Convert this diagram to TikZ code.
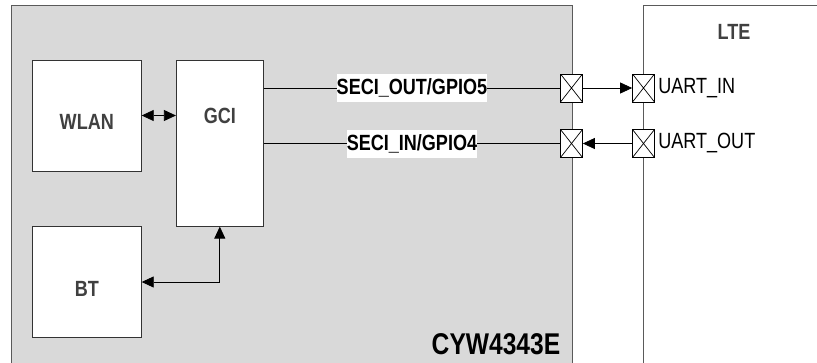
\documentclass[tikz,border=0pt]{standalone}
\usepackage{fontspec}
\setmainfont{Liberation Sans}[FakeStretch=0.82]
\usetikzlibrary{arrows.meta}
\definecolor{chipgray}{HTML}{D9D9D9}
\definecolor{edgegray}{HTML}{5A5A5A}
\definecolor{txtgray}{HTML}{404040}
\begin{document}
\begin{tikzpicture}[x=1pt, y=-1pt, >={Triangle[length=12pt,width=11pt]},
  every node/.style={font=\fontsize{22}{24}\selectfont},
  blk/.style={draw=black!80, fill=white, inner sep=0pt, line width=0.8pt},
  lbl/.style={text=txtgray, font=\fontsize{22}{24}\selectfont\bfseries},
  pad/.style={draw, fill=white, minimum width=22pt, minimum height=28pt, inner sep=0pt, line width=0.7pt,
    path picture={\draw[line width=0.7pt] (path picture bounding box.south west) -- (path picture bounding box.north east)
      (path picture bounding box.north west) -- (path picture bounding box.south east);}},
  sig/.style={fill=white, inner xsep=0pt, minimum height=28pt, font=\fontsize{22}{24}\selectfont\bfseries}]
  \useasboundingbox (0,0) rectangle (817,362);
  \clip (0,0) rectangle (817,362);
  % chip and LTE outlines, both run off the bottom
  \draw[edgegray, fill=chipgray, line width=1pt] (11,5) rectangle (572,380);
  \draw[edgegray, fill=white, line width=1pt] (643.5,5) rectangle (840,380);
  \node[lbl] (lte) at (734,31.5) {LTE};
  \node[font=\fontsize{30}{32}\selectfont\bfseries] (chip) at (496,344) {CYW4343E};
  % blocks inside the chip
  \node[blk, minimum width=109pt, minimum height=111pt, label={[lbl, yshift=-6pt]center:WLAN}] (wlan) at (86.8,115.5) {};
  \node[blk, minimum width=109pt, minimum height=111pt, label={[lbl, yshift=-6.5pt]center:BT}] (bt) at (86.8,282) {};
  \node[blk, minimum width=87pt, minimum height=166pt, label={[lbl, yshift=27.5pt]center:GCI}] (gci) at (219.8,143.2) {};
  \draw[<->, line width=0.8pt] (wlan.east) -- (wlan.east -| gci.west);
  \draw[<->, line width=0.8pt] (bt.east) -| (gci.south);
  % pads on both sides
  \node[pad] (cpo) at (571.5,88) {};
  \node[pad] (cpi) at (571.5,143.5) {};
  \node[pad] (lpi) at (643.5,88) {};
  \node[pad] (lpo) at (643.5,143.5) {};
  \node[anchor=west] at (lpi.east) {UART\_IN};
  \node[anchor=west] at (lpo.east) {UART\_OUT};
  \draw[line width=0.8pt] (gci.east |- cpo) -- node[sig] {SECI\_OUT/GPIO5} (cpo.west);
  \draw[line width=0.8pt] (gci.east |- cpi) -- node[sig] {SECI\_IN/GPIO4} (cpi.west);
  \draw[->, line width=0.8pt] (cpo.east) -- (lpi.west);
  \draw[->, line width=0.8pt] (lpo.west) -- (cpi.east);
\end{tikzpicture}
\end{document}
